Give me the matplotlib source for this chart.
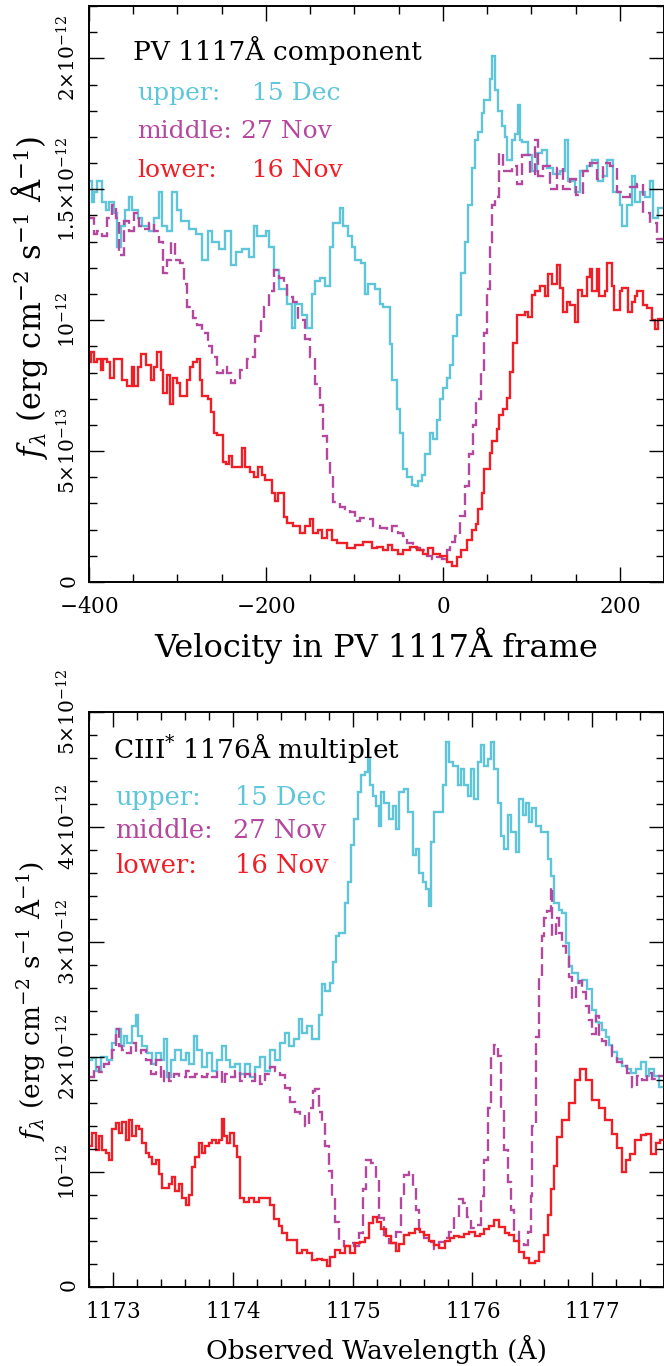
import matplotlib
matplotlib.use("Agg")
import matplotlib.pyplot as plt
import numpy as np
from matplotlib.ticker import FixedLocator, MultipleLocator

plt.rcParams['font.family'] = ['DejaVu Serif']
plt.rcParams['mathtext.fontset'] = 'dejavuserif'

UNIT = 1e-12
CYAN = '#5fc6da'
MAGENTA = '#b4489f'
RED = '#ee1f27'

# ---- top panel: PV 1117A, velocity (km/s) bin edges, flux in 1e-12 units
pv_upper_v = [-400, -397, -394, -391, -385, -381, -377, -372, -368, -364, -359, -355, -351, -345, -340,
              -332, -327, -321, -317, -312, -306, -301, -296, -287, -279, -272, -266, -261, -253, -246,
              -240, -234, -227, -219, -214, -210, -200, -197, -191, -185, -176, -171, -167, -159, -154,
              -148, -145, -139, -133, -128, -124, -116, -113, -107, -103, -99, -92, -88, -85, -77,
              -71, -68, -60, -57, -52, -49, -45, -41, -35, -32, -28, -24, -20, -15, -11,
              -7, -3, 0, 5, 8, 11, 16, 21, 25, 28, 33, 36, 40, 44, 47,
              53, 55, 59, 62, 67, 70, 73, 78, 81, 85, 87, 90, 96, 101, 106,
              112, 118, 124, 132, 138, 141, 149, 155, 163, 169, 175, 181, 186, 192, 200,
              203, 208, 214, 217, 223, 228, 234, 237, 243, 250]
pv_upper_f = [1.53, 1.45, 1.49, 1.53, 1.45, 1.42, 1.45, 1.41, 1.28, 1.36, 1.42, 1.47, 1.42, 1.39, 1.36,
              1.34, 1.39, 1.49, 1.36, 1.34, 1.49, 1.42, 1.38, 1.35, 1.33, 1.23, 1.34, 1.30, 1.27, 1.34,
              1.21, 1.26, 1.27, 1.24, 1.36, 1.32, 1.34, 1.28, 1.19, 1.12, 1.06, 0.97, 1.06, 1.02, 0.97,
              1.10, 1.15, 1.16, 1.13, 1.28, 1.37, 1.43, 1.36, 1.32, 1.28, 1.23, 1.22, 1.10, 1.14, 1.12,
              1.06, 1.05, 0.91, 0.77, 0.66, 0.57, 0.43, 0.40, 0.37, 0.365, 0.385, 0.41, 0.49, 0.57, 0.545,
              0.62, 0.70, 0.74, 0.78, 0.83, 0.94, 1.02, 1.18, 1.30, 1.44, 1.58, 1.69, 1.72, 1.79, 1.84,
              1.92, 2.01, 1.88, 1.80, 1.74, 1.70, 1.61, 1.69, 1.71, 1.82, 1.69, 1.68, 1.63, 1.57, 1.64,
              1.65, 1.58, 1.56, 1.57, 1.69, 1.53, 1.49, 1.57, 1.59, 1.61, 1.53, 1.55, 1.61, 1.49, 1.44,
              1.36, 1.44, 1.55, 1.45, 1.49, 1.47, 1.53, 1.39, 1.43]

pv_middle_v = [-400, -394, -391, -385, -380, -374, -370, -366, -361, -355, -349, -344, -338, -332, -327,
               -321, -316, -312, -307, -303, -297, -293, -289, -283, -278, -272, -266, -261, -255, -249,
               -244, -240, -235, -229, -221, -215, -212, -206, -202, -197, -191, -185, -180, -176, -169,
               -164, -156, -150, -145, -139, -136, -131, -128, -124, -116, -111, -105, -99, -94, -86,
               -79, -71, -63, -57, -51, -45, -40, -34, -26, -18, -12, -7, -1, 5, 8,
               14, 19, 25, 29, 34, 38, 43, 46, 50, 53, 55, 59, 64, 68, 78,
               84, 90, 98, 104, 107, 113, 121, 129, 136, 144, 151, 158, 166, 174, 181,
               189, 197, 203, 211, 219, 226, 234, 242, 250]
pv_middle_f = [1.39, 1.33, 1.34, 1.32, 1.39, 1.44, 1.39, 1.25, 1.38, 1.34, 1.41, 1.36, 1.35, 1.37, 1.34,
               1.30, 1.18, 1.23, 1.30, 1.23, 1.22, 1.14, 1.05, 1.01, 0.98, 0.95, 0.90, 0.86, 0.80, 0.82,
               0.80, 0.76, 0.78, 0.81, 0.85, 0.86, 0.94, 1.01, 1.05, 1.11, 1.19, 1.16, 1.14, 1.09, 1.07,
               1.00, 0.93, 0.86, 0.755, 0.675, 0.556, 0.458, 0.411, 0.306, 0.286, 0.279, 0.266, 0.233, 0.246, 0.240,
               0.213, 0.207, 0.194, 0.213, 0.187, 0.174, 0.148, 0.128, 0.121, 0.101, 0.088, 0.094, 0.088, 0.121, 0.154,
               0.174, 0.253, 0.368, 0.49, 0.60, 0.70, 0.80, 0.95, 1.12, 1.30, 1.44, 1.47, 1.64, 1.57, 1.59,
               1.52, 1.63, 1.56, 1.69, 1.55, 1.59, 1.50, 1.58, 1.50, 1.54, 1.48, 1.57, 1.60, 1.54, 1.60,
               1.59, 1.49, 1.47, 1.51, 1.52, 1.41, 1.37, 1.31]

pv_lower_v = [-400, -398, -394, -391, -387, -384, -380, -376, -372, -363, -357, -351, -349, -345, -341,
              -336, -330, -327, -323, -319, -316, -312, -308, -305, -301, -297, -289, -286, -282, -278,
              -275, -272, -266, -262, -259, -255, -249, -245, -242, -238, -227, -224, -218, -213, -209,
              -205, -201, -193, -190, -186, -180, -176, -169, -162, -156, -150, -147, -141, -137, -131,
              -125, -120, -108, -99, -90, -80, -75, -68, -62, -57, -51, -45, -37, -29, -23,
              -17, -11, -3, 5, 10, 16, 21, 27, 33, 38, 40, 44, 47, 53, 56,
              61, 64, 68, 72, 76, 79, 84, 93, 96, 101, 104, 110, 115, 119, 123,
              129, 132, 136, 140, 144, 149, 153, 157, 163, 166, 169, 174, 177, 183, 186,
              191, 194, 200, 203, 209, 214, 217, 220, 226, 231, 236, 240, 243, 250]
pv_lower_f = [0.84, 0.88, 0.84, 0.85, 0.81, 0.85, 0.84, 0.78, 0.85, 0.77, 0.75, 0.82, 0.75, 0.82, 0.87,
              0.83, 0.77, 0.82, 0.88, 0.81, 0.72, 0.79, 0.68, 0.78, 0.76, 0.71, 0.77, 0.82, 0.84, 0.85,
              0.77, 0.71, 0.70, 0.65, 0.57, 0.56, 0.46, 0.45, 0.48, 0.44, 0.51, 0.44, 0.42, 0.40, 0.44,
              0.41, 0.39, 0.34, 0.31, 0.34, 0.25, 0.227, 0.213, 0.187, 0.213, 0.240, 0.187, 0.200, 0.167, 0.200,
              0.161, 0.148, 0.128, 0.141, 0.154, 0.128, 0.134, 0.121, 0.141, 0.121, 0.108, 0.121, 0.134, 0.121, 0.108,
              0.128, 0.108, 0.101, 0.075, 0.062, 0.094, 0.121, 0.161, 0.200, 0.220, 0.279, 0.339, 0.431, 0.491, 0.537,
              0.583, 0.636, 0.662, 0.702, 0.801, 0.913, 1.018, 1.031, 1.011, 1.098, 1.111, 1.131, 1.091, 1.177, 1.137,
              1.210, 1.124, 1.031, 1.071, 1.058, 0.992, 1.117, 1.091, 1.164, 1.197, 1.111, 1.197, 1.091, 1.111, 1.217,
              1.131, 1.038, 1.111, 1.124, 1.031, 1.071, 1.091, 1.111, 1.058, 1.045, 0.999, 0.966, 1.005]

# ---- bottom panel: CIII* 1176A, observed wavelength (A) bin edges, flux in 1e-12 units
c3_upper_w = [1172.800, 1172.828, 1172.856, 1172.897, 1172.953, 1172.994, 1173.022, 1173.064, 1173.092, 1173.119,
              1173.161, 1173.189, 1173.211, 1173.244, 1173.286, 1173.328, 1173.356, 1173.397, 1173.425, 1173.453,
              1173.481, 1173.522, 1173.564, 1173.606, 1173.633, 1173.675, 1173.703, 1173.744, 1173.786, 1173.828,
              1173.869, 1173.911, 1173.944, 1173.981, 1174.022, 1174.064, 1174.106, 1174.147, 1174.189, 1174.231,
              1174.272, 1174.314, 1174.356, 1174.397, 1174.439, 1174.467, 1174.508, 1174.550, 1174.578, 1174.619,
              1174.661, 1174.717, 1174.744, 1174.772, 1174.808, 1174.836, 1174.864, 1174.891, 1174.933, 1174.961,
              1174.989, 1175.016, 1175.044, 1175.072, 1175.100, 1175.127, 1175.147, 1175.169, 1175.197, 1175.225,
              1175.239, 1175.266, 1175.308, 1175.336, 1175.364, 1175.391, 1175.433, 1175.461, 1175.502, 1175.530,
              1175.558, 1175.586, 1175.614, 1175.641, 1175.655, 1175.683, 1175.752, 1175.780, 1175.808, 1175.836,
              1175.878, 1175.905, 1175.933, 1175.961, 1175.989, 1176.016, 1176.044, 1176.072, 1176.100, 1176.127,
              1176.155, 1176.183, 1176.211, 1176.239, 1176.266, 1176.294, 1176.322, 1176.364, 1176.391, 1176.419,
              1176.447, 1176.475, 1176.502, 1176.530, 1176.572, 1176.628, 1176.655, 1176.683, 1176.725, 1176.752,
              1176.780, 1176.808, 1176.836, 1176.878, 1176.919, 1176.961, 1177.003, 1177.030, 1177.058, 1177.086,
              1177.114, 1177.141, 1177.169, 1177.211, 1177.252, 1177.294, 1177.322, 1177.364, 1177.405, 1177.447,
              1177.475, 1177.516, 1177.558, 1177.600]
c3_upper_f = [1.97, 1.99, 1.88, 2.00, 1.97, 2.12, 2.24, 2.09, 2.18, 2.12,
              2.27, 2.36, 2.18, 2.09, 2.03, 1.94, 2.03, 1.97, 2.15, 1.82,
              1.97, 2.06, 1.97, 2.03, 1.94, 2.18, 2.06, 1.91, 2.03, 1.88,
              1.97, 2.09, 1.97, 1.91, 1.94, 1.85, 1.94, 1.82, 1.91, 2.00,
              1.88, 2.06, 1.97, 2.12, 2.21, 2.09, 2.15, 2.33, 2.21, 2.27,
              2.15, 2.36, 2.63, 2.57, 2.64, 2.82, 3.05, 3.08, 3.34, 3.52,
              3.84, 4.07, 4.30, 4.45, 4.48, 4.59, 4.36, 4.27, 4.18, 4.01,
              4.30, 4.21, 4.07, 4.18, 3.98, 4.30, 4.33, 4.13, 3.75, 3.81,
              3.60, 3.52, 3.46, 3.31, 3.87, 4.13, 4.36, 4.74, 4.56, 4.53,
              4.36, 4.50, 4.36, 4.27, 4.50, 4.24, 4.56, 4.71, 4.53, 4.59,
              4.74, 4.50, 4.21, 3.92, 3.81, 4.10, 3.95, 3.78, 4.24, 4.10,
              4.21, 4.04, 4.16, 4.01, 3.95, 3.72, 3.57, 3.34, 3.28, 3.25,
              2.99, 2.79, 2.73, 2.64, 2.67, 2.59, 2.41, 2.30, 2.29, 2.23,
              2.17, 2.10, 2.04, 1.98, 1.92, 1.89, 1.86, 1.89, 1.95, 1.83,
              1.89, 1.83, 1.74]

c3_middle_w = [1172.800, 1172.842, 1172.883, 1172.925, 1172.967, 1172.994, 1173.022, 1173.050, 1173.078, 1173.119,
               1173.147, 1173.189, 1173.231, 1173.272, 1173.314, 1173.356, 1173.397, 1173.425, 1173.467, 1173.508,
               1173.550, 1173.606, 1173.647, 1173.689, 1173.744, 1173.786, 1173.828, 1173.869, 1173.911, 1173.939,
               1173.981, 1174.022, 1174.064, 1174.106, 1174.147, 1174.189, 1174.231, 1174.272, 1174.314, 1174.356,
               1174.397, 1174.439, 1174.481, 1174.522, 1174.564, 1174.606, 1174.633, 1174.667, 1174.689, 1174.717,
               1174.744, 1174.772, 1174.800, 1174.828, 1174.856, 1174.883, 1174.925, 1174.967, 1175.008, 1175.050,
               1175.086, 1175.114, 1175.155, 1175.197, 1175.225, 1175.266, 1175.308, 1175.364, 1175.405, 1175.433,
               1175.475, 1175.502, 1175.530, 1175.558, 1175.600, 1175.641, 1175.683, 1175.725, 1175.766, 1175.808,
               1175.850, 1175.891, 1175.925, 1175.952, 1175.989, 1176.030, 1176.072, 1176.100, 1176.127, 1176.155,
               1176.183, 1176.211, 1176.239, 1176.266, 1176.294, 1176.322, 1176.350, 1176.391, 1176.433, 1176.461,
               1176.489, 1176.502, 1176.530, 1176.558, 1176.580, 1176.600, 1176.627, 1176.655, 1176.669, 1176.697,
               1176.725, 1176.752, 1176.780, 1176.808, 1176.836, 1176.864, 1176.891, 1176.919, 1176.947, 1176.975,
               1177.002, 1177.030, 1177.058, 1177.086, 1177.114, 1177.169, 1177.211, 1177.252, 1177.294, 1177.336,
               1177.377, 1177.419, 1177.461, 1177.502, 1177.558, 1177.600]
c3_middle_f = [1.82, 1.91, 1.87, 1.94, 1.97, 2.06, 2.24, 2.09, 2.06, 2.03,
               2.12, 2.03, 2.06, 1.97, 1.85, 1.97, 1.79, 1.88, 1.79, 1.85,
               1.82, 1.88, 1.82, 1.85, 1.82, 1.85, 1.82, 1.88, 1.76, 1.85,
               1.82, 1.88, 1.79, 1.85, 1.79, 1.85, 1.76, 1.85, 1.91, 1.88,
               1.84, 1.73, 1.61, 1.52, 1.49, 1.40, 1.55, 1.70, 1.72, 1.52,
               1.43, 1.22, 1.01, 0.77, 0.56, 0.41, 0.35, 0.38, 0.35, 0.47,
               0.85, 1.10, 1.08, 0.94, 0.60, 0.45, 0.38, 0.48, 0.79, 0.97,
               1.00, 0.88, 0.67, 0.48, 0.42, 0.39, 0.33, 0.39, 0.42, 0.48,
               0.61, 0.76, 0.73, 0.61, 0.51, 0.54, 0.79, 1.10, 1.55, 2.01,
               2.10, 2.01, 1.55, 1.19, 0.91, 0.67, 0.48, 0.39, 0.36, 0.48,
               0.79, 1.40, 2.17, 2.69, 3.05, 3.21, 3.27, 3.48, 3.05, 3.21,
               3.08, 2.96, 2.87, 2.69, 2.50, 2.62, 2.66, 2.56, 2.44, 2.32,
               2.20, 2.35, 2.17, 2.14, 2.10, 2.01, 1.95, 1.92, 1.86, 1.74,
               1.83, 1.80, 1.86, 1.81, 1.83]

c3_lower_w = [1172.800, 1172.828, 1172.856, 1172.883, 1172.911, 1172.939, 1172.967, 1172.994, 1173.022, 1173.050,
              1173.078, 1173.106, 1173.133, 1173.161, 1173.189, 1173.217, 1173.244, 1173.272, 1173.300, 1173.328,
              1173.356, 1173.383, 1173.411, 1173.467, 1173.494, 1173.522, 1173.550, 1173.578, 1173.606, 1173.633,
              1173.661, 1173.689, 1173.717, 1173.744, 1173.772, 1173.800, 1173.828, 1173.856, 1173.883, 1173.911,
              1173.925, 1173.953, 1173.981, 1174.008, 1174.036, 1174.064, 1174.092, 1174.133, 1174.175, 1174.217,
              1174.258, 1174.314, 1174.342, 1174.383, 1174.411, 1174.453, 1174.494, 1174.536, 1174.578, 1174.619,
              1174.661, 1174.703, 1174.744, 1174.786, 1174.814, 1174.856, 1174.897, 1174.939, 1174.981, 1175.022,
              1175.060, 1175.100, 1175.140, 1175.170, 1175.200, 1175.240, 1175.280, 1175.320, 1175.360, 1175.390,
              1175.430, 1175.470, 1175.520, 1175.560, 1175.600, 1175.640, 1175.680, 1175.720, 1175.770, 1175.810,
              1175.850, 1175.890, 1175.930, 1175.970, 1176.020, 1176.060, 1176.100, 1176.140, 1176.180, 1176.220,
              1176.270, 1176.310, 1176.350, 1176.390, 1176.430, 1176.470, 1176.520, 1176.560, 1176.600, 1176.630,
              1176.660, 1176.680, 1176.710, 1176.750, 1176.810, 1176.860, 1176.900, 1176.950, 1177.000, 1177.060,
              1177.110, 1177.170, 1177.210, 1177.250, 1177.280, 1177.320, 1177.360, 1177.410, 1177.450, 1177.490,
              1177.530, 1177.570, 1177.600]
c3_lower_f = [1.22, 1.34, 1.19, 1.31, 1.19, 1.16, 1.10, 1.37, 1.42, 1.34,
              1.43, 1.28, 1.45, 1.31, 1.40, 1.37, 1.25, 1.16, 1.13, 1.07,
              1.10, 0.98, 0.86, 0.89, 0.95, 0.83, 0.89, 0.77, 0.71, 0.80,
              1.04, 1.13, 1.25, 1.16, 1.22, 1.25, 1.28, 1.25, 1.28, 1.46,
              1.31, 1.25, 1.34, 1.22, 1.13, 0.77, 0.74, 0.77, 0.74, 0.77,
              0.77, 0.71, 0.59, 0.53, 0.47, 0.41, 0.41, 0.29, 0.32, 0.29,
              0.23, 0.24, 0.23, 0.18, 0.26, 0.32, 0.29, 0.35, 0.29, 0.38,
              0.39, 0.42, 0.55, 0.61, 0.56, 0.50, 0.44, 0.38, 0.31, 0.37,
              0.45, 0.47, 0.50, 0.48, 0.45, 0.40, 0.36, 0.34, 0.40, 0.42,
              0.44, 0.43, 0.46, 0.48, 0.44, 0.46, 0.50, 0.53, 0.58, 0.52,
              0.47, 0.45, 0.40, 0.30, 0.25, 0.21, 0.22, 0.30, 0.45, 0.62,
              0.85, 1.05, 1.30, 1.45, 1.60, 1.80, 1.89, 1.80, 1.62, 1.55,
              1.45, 1.33, 1.21, 1.00, 1.10, 1.15, 1.28, 1.32, 1.33, 1.15,
              1.25, 1.28]

pv_yticks = [0, 0.5, 1.0, 1.5, 2.0]
pv_ylabels = [r'$0$', r'$5{\times}10^{-13}$', r'$10^{-12}$', r'$1.5{\times}10^{-12}$', r'$2{\times}10^{-12}$']
pv_xticks = [-400, -200, 0, 200]
c3_yticks = [0, 1, 2, 3, 4, 5]
c3_ylabels = [r'$0$', r'$10^{-12}$', r'$2{\times}10^{-12}$', r'$3{\times}10^{-12}$',
              r'$4{\times}10^{-12}$', r'$5{\times}10^{-12}$']
c3_xticks = [1173, 1174, 1175, 1176, 1177]

W, H = 664, 1366
fig = plt.figure(figsize=(W / 100, H / 100), dpi=100)
ax1 = fig.add_axes([89 / W, 1 - 582 / H, 575 / W, 576 / H])
ax2 = fig.add_axes([89 / W, 1 - 1286.7 / H, 575 / W, 575 / H])


def style(ax):
    for s in ax.spines.values():
        s.set_linewidth(1.4)
    ax.tick_params(which='both', direction='in', top=True, right=True, width=1.0)
    ax.tick_params(which='major', length=11)
    ax.tick_params(which='minor', length=6)
    ax.tick_params(axis='x', labelsize=15.5, pad=10)
    ax.tick_params(axis='y', labelsize=14.5, pad=6.5)


def spectra(ax, sets):
    for edges, flux, color, ls in sets:
        ax.stairs(np.array(flux) * UNIT, edges, baseline=None, color=color, lw=1.7, linestyle=ls)


dash = (0, (5, 2.2))
spectra(ax1, [(pv_upper_v, pv_upper_f, CYAN, '-'),
              (pv_middle_v, pv_middle_f, MAGENTA, dash),
              (pv_lower_v, pv_lower_f, RED, '-')])
spectra(ax2, [(c3_upper_w, c3_upper_f, CYAN, '-'),
              (c3_middle_w, c3_middle_f, MAGENTA, dash),
              (c3_lower_w, c3_lower_f, RED, '-')])

ax1.set_xlim(-400, 250)
ax1.set_ylim(0, 2.2 * UNIT)
ax1.xaxis.set_major_locator(FixedLocator(pv_xticks))
ax1.set_xticklabels([r'$%d$' % t for t in pv_xticks])
ax1.xaxis.set_minor_locator(MultipleLocator(50))
ax1.yaxis.set_major_locator(FixedLocator([t * UNIT for t in pv_yticks]))
ax1.set_yticklabels(pv_ylabels, rotation=90, va='center')
ax1.yaxis.set_minor_locator(MultipleLocator(0.1 * UNIT))

ax2.set_xlim(1172.8, 1177.6)
ax2.set_ylim(0, 5 * UNIT)
ax2.xaxis.set_major_locator(FixedLocator(c3_xticks))
ax2.set_xticklabels([r'$%d$' % t for t in c3_xticks])
ax2.xaxis.set_minor_locator(MultipleLocator(0.2))
ax2.yaxis.set_major_locator(FixedLocator([t * UNIT for t in c3_yticks]))
ax2.set_yticklabels(c3_ylabels, rotation=90, va='center')
ax2.yaxis.set_minor_locator(MultipleLocator(0.2 * UNIT))

for ax in (ax1, ax2):
    style(ax)

# annotations, top panel (baseline positions in axes fraction)
ax1.text(0.0765, 0.906, 'PV 1117Å component', transform=ax1.transAxes, fontsize=19, va='baseline')
for lab, date, col, xd, y in [('upper:', '15 Dec', CYAN, 0.2835, 0.837),
                              ('middle:', '27 Nov', MAGENTA, 0.2643, 0.771),
                              ('lower:', '16 Nov', RED, 0.2835, 0.703)]:
    ax1.text(0.0835, y, lab, transform=ax1.transAxes, fontsize=18, color=col, va='baseline')
    ax1.text(xd, y, date, transform=ax1.transAxes, fontsize=18, color=col, va='baseline')

# annotations, bottom panel
ax2.text(0.0417, 0.9195, r'CIII$^{*}$ 1176Å multiplet', transform=ax2.transAxes, fontsize=19, va='baseline')
for lab, date, col, xd, y in [('upper:', '15 Dec', CYAN, 0.254, 0.8377),
                              ('middle:', '27 Nov', MAGENTA, 0.250, 0.7803),
                              ('lower:', '16 Nov', RED, 0.254, 0.7194)]:
    ax2.text(0.045, y, lab, transform=ax2.transAxes, fontsize=18.5, color=col, va='baseline')
    ax2.text(xd, y, date, transform=ax2.transAxes, fontsize=18.5, color=col, va='baseline')

ylab = r'$f_\lambda$ (erg cm$^{-2}$ s$^{-1}$ Å$^{-1}$)'
fig.text(30 / W, 1 - 297 / H, ylab, rotation=90, ha='center', va='center', fontsize=22)
fig.text(30 / W, 1 - 1001 / H, ylab, rotation=90, ha='center', va='center', fontsize=19)
fig.text(376.5 / W, 1 - 657 / H, 'Velocity in PV 1117Å frame', ha='center', va='baseline', fontsize=23)
fig.text(376.5 / W, 1 - 1359 / H, 'Observed Wavelength (Å)', ha='center', va='baseline', fontsize=19)

fig.savefig('out.png', dpi=100)
